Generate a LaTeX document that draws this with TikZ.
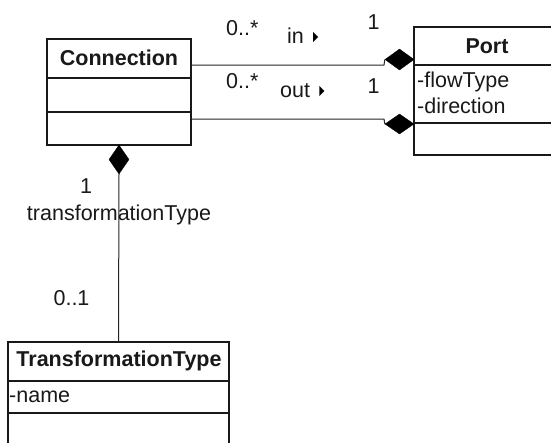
\documentclass[tikz,border=0pt]{standalone}
\usepackage{fontspec}
\setmainfont{Liberation Sans}
\usetikzlibrary{shapes.geometric}
\begin{document}
\begin{tikzpicture}[x=1pt,y=-1pt,
  font=\fontsize{21.5}{25}\selectfont, text=black!90,
  classbox/.style={draw=black!90, line width=1.3pt, inner sep=0pt, fill=white},
  divider/.style={draw=black!90, line width=1.3pt},
  comp/.style={diamond, fill=black, draw=black, line width=0.4pt, inner sep=0pt},
  assoc/.style={line width=1pt, draw=black!85},
  lbl/.style={inner sep=0pt, anchor=base},
  lblw/.style={inner sep=0pt, anchor=base west},
  navtri/.style={fill=black}]
\useasboundingbox (0,0) rectangle (551,442);
\clip (0,0) rectangle (551,442);
\fill[white] (0,0) rectangle (551,442);

% classes
\node[classbox, minimum width=144pt, minimum height=106pt] (conn) at (119,92) {};
\draw[divider] (47,78) -- (191,78);
\draw[divider] (47,112) -- (191,112);
\node[lbl] (connT) at (119,65) {\bfseries Connection};

\node[classbox, minimum width=146pt, minimum height=128pt] (port) at (487,91) {};
\draw[divider] (414,65) -- (560,65);
\draw[divider] (414,123) -- (560,123);
\node[lbl] (portT) at (487,53) {\bfseries Port};
\node[lblw] (portA1) at (417,87) {-flowType};
\node[lblw] (portA2) at (417,113) {-direction};

\node[classbox, minimum width=221pt, minimum height=108pt] (tt) at (118.5,396) {};
\draw[divider] (8,381) -- (229,381);
\draw[divider] (8,413) -- (229,413);
\node[lbl] (ttT) at (119,366) {\bfseries TransformationType};
\node[lblw] (ttA1) at (9,402) {-name};

% composition diamonds
\node[comp, minimum width=29pt, minimum height=21pt] (dIn) at (399.5,59.5) {};
\node[comp, minimum width=29pt, minimum height=20pt] (dOut) at (399.5,124) {};
\node[comp, minimum width=20pt, minimum height=29pt] (dBot) at (119,159.5) {};

% connectors
\coordinate (inStart) at (191,65);
\coordinate (inBend) at (384,65);
\coordinate (outStart) at (191,119);
\coordinate (outBend) at (384,119);
\draw[assoc] (inStart) -- (inBend) -- (dIn.west);
\draw[assoc] (outStart) -- (outBend) -- (dOut.west);
\draw[assoc] (dBot.south) -- (tt.north);

% labels
\node[lblw] (m1) at (226,35) {0..*};
\node[lblw] (r1) at (287,43) {in};
\fill[navtri] (r1.base east) ++(9,-1) -- ++(0,-10) -- ++(5,5) -- cycle;
\node[lbl] (n1) at (373.5,29) {1};

\node[lblw] (m2) at (226,88) {0..*};
\node[lblw] (r2) at (280,97) {out};
\fill[navtri] (r2.base east) ++(9,-1) -- ++(0,-10) -- ++(5,5) -- cycle;
\node[lbl] (n2) at (373.5,93) {1};

\node[lbl] (n3) at (86,193) {1};
\node[lbl] (role) at (119,220) {transformationType};
\node[lbl] (m3) at (71.5,305) {0..1};
\end{tikzpicture}
\end{document}
